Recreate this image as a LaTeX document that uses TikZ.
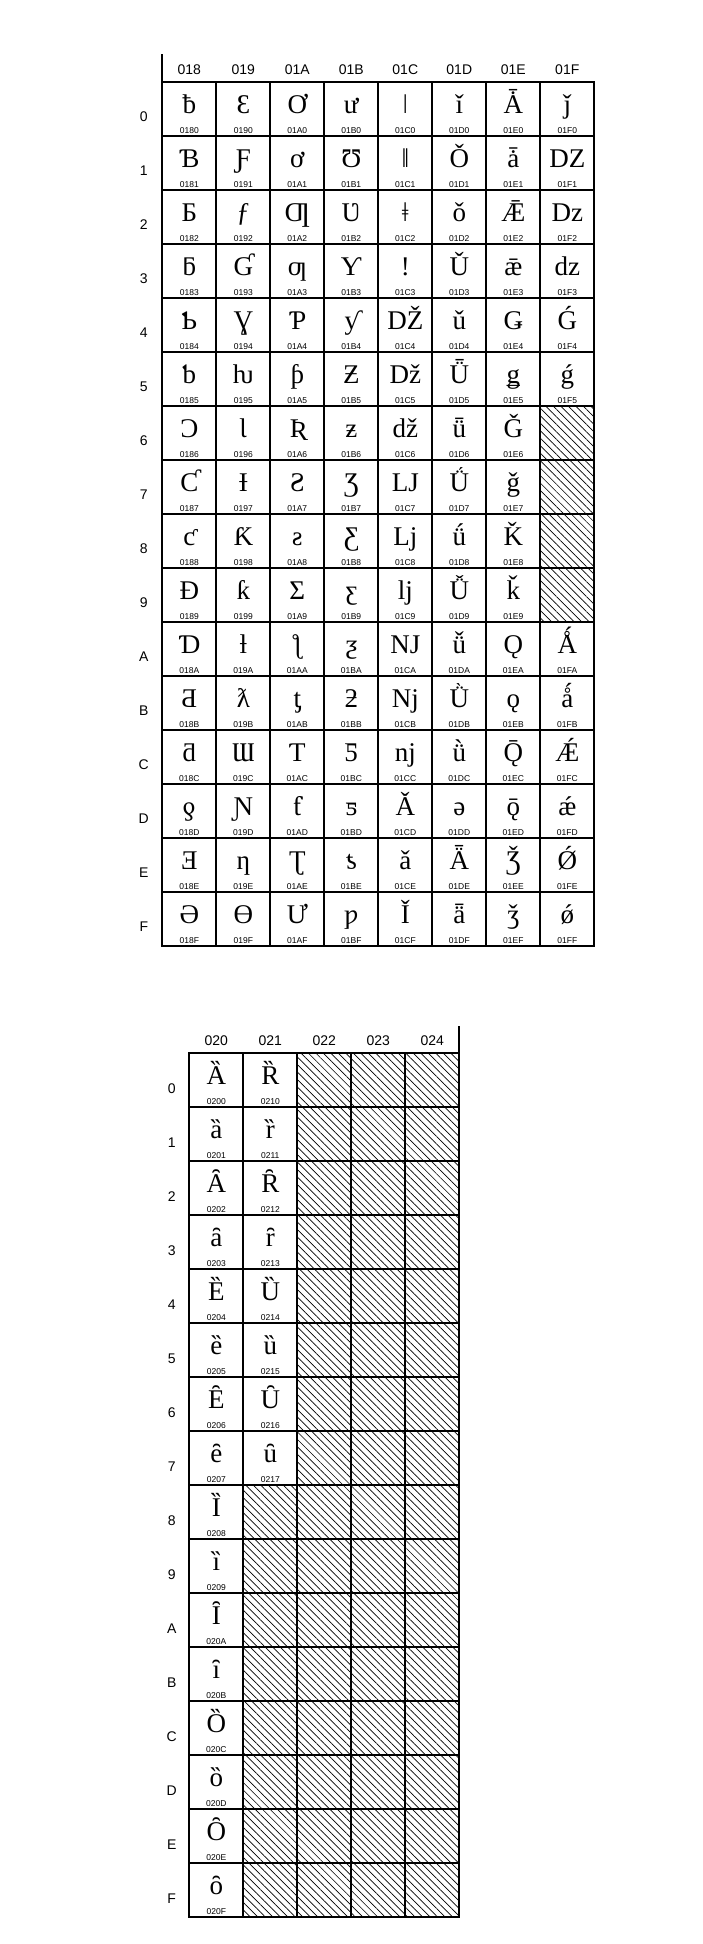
\documentclass[tikz,border=0pt]{standalone}
\usepackage{fontspec}
\setmainfont{Liberation Serif}
\newfontfamily\chartsans{Liberation Sans}
\usetikzlibrary{patterns.meta}
\newcommand\hexdig[1]{\ifcase\numexpr#1\relax 0\or 1\or 2\or 3\or 4\or 5\or 6\or 7\or 8\or 9\or A\or B\or C\or D\or E\or F\fi}
\tikzset{
  gridline/.style={line width=2pt},
  unused/.style={pattern={Lines[angle=-45,distance=5.3pt,line width=0.7pt]}},
  glyphtext/.style={anchor=base,inner sep=0pt,font=\fontsize{27}{27}\selectfont},
  codetext/.style={anchor=base,inner sep=0pt,font=\chartsans\fontsize{8.5}{9}\selectfont},
  headtext/.style={anchor=base,inner sep=0pt,font=\chartsans\fontsize{14}{15}\selectfont}
}
\begin{document}
\begin{tikzpicture}[x=1pt,y=-1pt]
\useasboundingbox[fill=white] (0,0) rectangle (702,1944);
% first block, 0180-01FF
\fill[unused] (540.3,{81.7+54*6}) rectangle (594.3,{81.7+54*10});
\foreach \c/\glyphs in {
  0/{ƀ,Ɓ,Ƃ,ƃ,Ƅ,ƅ,Ɔ,Ƈ,ƈ,Ɖ,Ɗ,Ƌ,ƌ,ƍ,Ǝ,Ə},
  1/{Ɛ,Ƒ,ƒ,Ɠ,Ɣ,ƕ,Ɩ,Ɨ,Ƙ,ƙ,ƚ,ƛ,Ɯ,Ɲ,ƞ,Ɵ},
  2/{Ơ,ơ,Ƣ,ƣ,Ƥ,ƥ,Ʀ,Ƨ,ƨ,Ʃ,ƪ,ƫ,Ƭ,ƭ,Ʈ,Ư},
  3/{ư,Ʊ,Ʋ,Ƴ,ƴ,Ƶ,ƶ,Ʒ,Ƹ,ƹ,ƺ,ƻ,Ƽ,ƽ,ƾ,ƿ},
  4/{ǀ,ǁ,ǂ,ǃ,Ǆ,ǅ,ǆ,Ǉ,ǈ,ǉ,Ǌ,ǋ,ǌ,Ǎ,ǎ,Ǐ},
  5/{ǐ,Ǒ,ǒ,Ǔ,ǔ,Ǖ,ǖ,Ǘ,ǘ,Ǚ,ǚ,Ǜ,ǜ,ǝ,Ǟ,ǟ},
  6/{Ǡ,ǡ,Ǣ,ǣ,Ǥ,ǥ,Ǧ,ǧ,Ǩ,ǩ,Ǫ,ǫ,Ǭ,ǭ,Ǯ,ǯ},
  7/{ǰ,Ǳ,ǲ,ǳ,Ǵ,ǵ,{},{},{},{},Ǻ,ǻ,Ǽ,ǽ,Ǿ,ǿ}}{
  \node[headtext] (h1-\c) at ({189.3+54*\c},74) {01\hexdig{8+\c}};
  \foreach \g [count=\r from 0] in \glyphs {
    \if\relax\detokenize\expandafter{\g}\relax\else
      \node[glyphtext] (g1-\c-\r) at ({189.3+54*\c},{81.7+54*\r+31.5}) {\g};
      \node[codetext] (k1-\c-\r) at ({189.3+54*\c},{81.7+54*\r+51.5}) {01\hexdig{8+\c}\hexdig{\r}};
    \fi
  }
}
\foreach \r in {0,...,15}
  \node[headtext] (r1-\r) at (143.8,{81.7+54*\r+40}) {\hexdig{\r}};
\draw[gridline] (162.3,54) -- (162.3,81.7);
\draw[gridline] (162.3,81.7) rectangle (594.3,945.7);
\foreach \r in {1,...,15}
  \draw[gridline] (162.3,{81.7+54*\r}) -- (594.3,{81.7+54*\r});
\foreach \c in {1,...,7}
  \draw[gridline] ({162.3+54*\c},81.7) -- ({162.3+54*\c},945.7);
% second block, 0200-024F
\fill[unused] (297.3,1053.3) rectangle (459.3,1917.3);
\fill[unused] (243.3,{1053.3+54*8}) rectangle (297.3,1917.3);
\foreach \c/\glyphs in {
  0/{Ȁ,ȁ,Ȃ,ȃ,Ȅ,ȅ,Ȇ,ȇ,Ȉ,ȉ,Ȋ,ȋ,Ȍ,ȍ,Ȏ,ȏ},
  1/{Ȑ,ȑ,Ȓ,ȓ,Ȕ,ȕ,Ȗ,ȗ}}{
  \foreach \g [count=\r from 0] in \glyphs {
    \node[glyphtext] (g2-\c-\r) at ({216.3+54*\c},{1053.3+54*\r+31.5}) {\g};
    \node[codetext] (k2-\c-\r) at ({216.3+54*\c},{1053.3+54*\r+51.5}) {02\hexdig{\c}\hexdig{\r}};
  }
}
\foreach \c in {0,...,4}
  \node[headtext] (h2-\c) at ({216.3+54*\c},1045.7) {02\hexdig{\c}};
\foreach \r in {0,...,15}
  \node[headtext] (r2-\r) at (171.7,{1053.3+54*\r+40}) {\hexdig{\r}};
\draw[gridline] (459.3,1026) -- (459.3,1053.3);
\draw[gridline] (189.3,1053.3) rectangle (459.3,1917.3);
\foreach \r in {1,...,15}
  \draw[gridline] (189.3,{1053.3+54*\r}) -- (459.3,{1053.3+54*\r});
\foreach \c in {1,...,4}
  \draw[gridline] ({189.3+54*\c},1053.3) -- ({189.3+54*\c},1917.3);
\end{tikzpicture}
\end{document}
